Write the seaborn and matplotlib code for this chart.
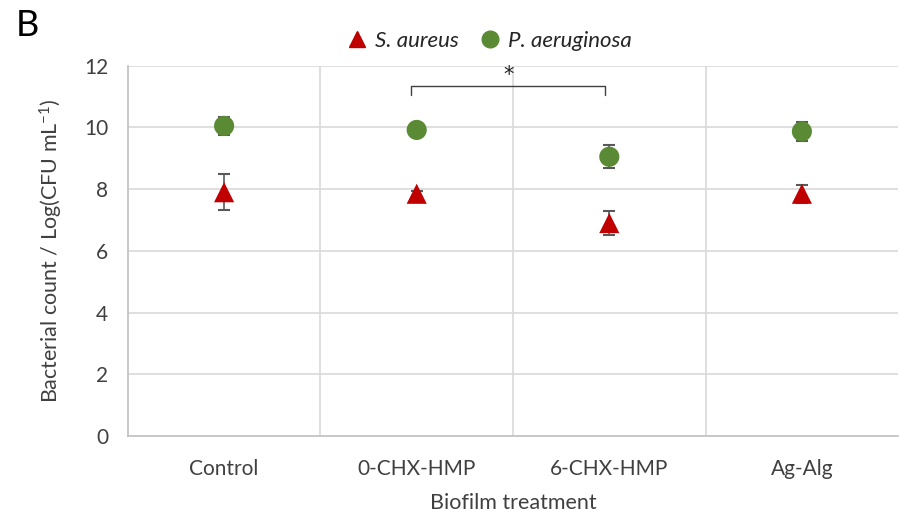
import matplotlib
matplotlib.use("Agg")
import matplotlib.pyplot as plt
import seaborn as sns
import pandas as pd
from matplotlib.lines import Line2D

treatments = ["Control", "0-CHX-HMP", "6-CHX-HMP", "Ag-Alg"]
s_aureus = [7.9, 7.85, 6.9, 7.85]
s_aureus_err = [0.58, 0.1, 0.4, 0.3]
p_aeruginosa = [10.05, 9.92, 9.05, 9.87]
p_aeruginosa_err = [0.3, 0.08, 0.37, 0.32]
species = ["S. aureus", "P. aeruginosa"]
yticks = [0, 2, 4, 6, 8, 10, 12]

sns.set_theme(style="white")
plt.rcParams['font.family'] = ['Lato', 'DejaVu Sans']
plt.rcParams['mathtext.fontset'] = 'custom'
plt.rcParams['mathtext.rm'] = 'Lato'
plt.rcParams['mathtext.it'] = 'Lato:italic'

df = pd.DataFrame({
    "treatment": treatments * 2,
    "count": s_aureus + p_aeruginosa,
    "err": s_aureus_err + p_aeruginosa_err,
    "species": [species[0]] * 4 + [species[1]] * 4,
})

red = "#C00000"
green = "#5B8A35"
palette = {species[0]: red, species[1]: green}
markers = {species[0]: "^", species[1]: "o"}

fig = plt.figure(figsize=(9, 5.22), dpi=100)
ax = fig.add_axes([0.142, 0.165, 0.856, 0.709])

for sp in species:
    sub = df[df.species == sp]
    ax.errorbar(sub.treatment, sub["count"], yerr=sub.err, fmt="none",
                ecolor="#595959", elinewidth=1.2, capsize=4, capthick=1.5, zorder=3)

sns.scatterplot(data=df, x="treatment", y="count", hue="species", style="species",
                palette=palette, markers=markers, s=210, edgecolor="none",
                ax=ax, legend=False, zorder=4)

ax.set_xlim(-0.5, 3.5)
ax.set_ylim(0, 12)
ax.set_yticks(yticks)
ax.set_xticks(range(len(treatments)))
ax.set_xticklabels(treatments)
ax.tick_params(axis="both", length=0, labelsize=15, colors="#404040")
ax.tick_params(axis="y", pad=14)
ax.tick_params(axis="x", pad=17)

# gridlines
for y in yticks[1:]:
    ax.axhline(y, color="#D9D9D9", lw=1.2, zorder=0)
for xb in [0.5, 1.5, 2.5]:
    ax.axvline(xb, color="#D9D9D9", lw=1.2, zorder=0)

for s in ["top", "right"]:
    ax.spines[s].set_visible(False)
for s in ["left", "bottom"]:
    ax.spines[s].set_color("#BFBFBF")
    ax.spines[s].set_linewidth(1.2)

ax.set_xlabel("Biofilm treatment", fontsize=15.5, color="#404040", labelpad=10)
ax.set_ylabel(r"Bacterial count / Log(CFU mL$^{-1}$)", fontsize=15.5, color="#404040", labelpad=14)

# significance bracket
ax.plot([0.97, 0.97, 1.98, 1.98], [11.06, 11.35, 11.35, 11.06], color="#404040", lw=1, zorder=3)
ax.text(1.475, 11.38, "*", ha="center", va="bottom", fontsize=15, color="#202020",
        family="DejaVu Sans")

handles = [Line2D([], [], marker=markers[sp], color=palette[sp], linestyle="none",
                  markersize=12) for sp in species]
leg = fig.legend(handles, species, loc="center", bbox_to_anchor=(0.543, 0.922), ncol=2,
                 frameon=False, handlelength=1.0, handletextpad=0.3, columnspacing=0.9,
                 prop={"style": "italic", "size": 16})
for t in leg.get_texts():
    t.set_color("#262626")

fig.text(0.018, 0.952, "B", fontsize=26, color="black", va="center")

fig.savefig("out.png", dpi=100)
